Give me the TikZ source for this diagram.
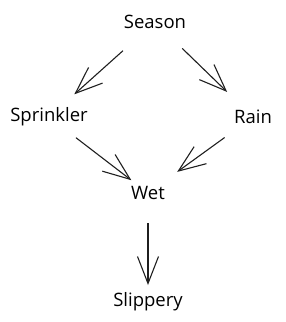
\documentclass[tikz,border=0pt]{standalone}
\usepackage{fontspec}
\setmainfont{Open Sans}
\usetikzlibrary{arrows.meta}
\begin{document}
\begin{tikzpicture}[x=1pt,y=-1pt,
	noeud/.style={inner sep=0pt,font=\fontsize{18.5}{22}\selectfont},
	fleche/.style={-{Straight Barb[length=27pt,width=21pt]},line width=1.1pt,color=black!88}]
	\useasboundingbox (0,0) rectangle (285,322);
	%les noeuds
	\node[noeud] (season) at (155,22) {Season};
	\node[noeud] (sprinkler) at (49,117) {Sprinkler};
	\node[noeud] (rain) at (253,117) {Rain};
	\node[noeud] (wet) at (148,193) {Wet};
	\node[noeud] (slippery) at (148,302) {Slippery};
	%fin
	%les fleches
	\draw[fleche,shorten <=43pt,shorten >=34pt] (season.center) -- (sprinkler.center);
	\draw[fleche,shorten <=38pt,shorten >=36pt] (season.center) -- (rain.center);
	\draw[fleche,shorten <=34pt,shorten >=21pt] (sprinkler.center) -- (wet.center);
	\draw[fleche,shorten <=35pt,shorten >=36pt] (rain.center) -- (wet.center);
	\draw[fleche,shorten <=30pt,shorten >=17pt] (wet.center) -- (slippery.center);
	%fin
\end{tikzpicture}
\end{document}
